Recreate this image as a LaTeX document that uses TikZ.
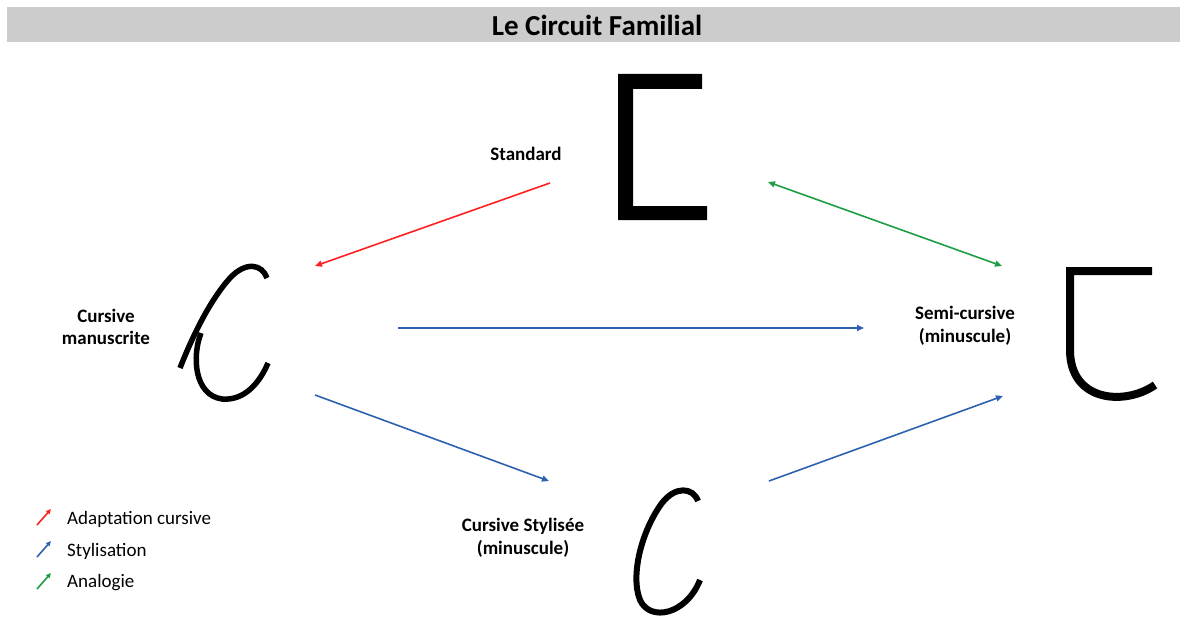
\documentclass[tikz,border=0pt]{standalone}
\usepackage{fontspec}
\setmainfont{Carlito}
\usetikzlibrary{arrows.meta}
\definecolor{titlegray}{HTML}{CCCCCC}
\definecolor{adred}{HTML}{FF2020}
\definecolor{stblue}{HTML}{2E62B0}
\definecolor{angreen}{HTML}{1E9E44}
\tikzset{
  lbl/.style={font=\fontsize{19}{22.5}\selectfont\bfseries, align=center, inner sep=0pt},
  leg/.style={font=\fontsize{19}{22}\selectfont, anchor=west, inner sep=0pt},
  conn/.style={line width=1.6pt, -{Triangle[length=7pt,width=6pt]}},
  legarrow/.style={line width=1.6pt, -{Triangle[length=5pt,width=4.5pt]}},
  glyph/.style={line width=#1, black, line cap=butt},
}
\begin{document}
\begin{tikzpicture}[x=1pt,y=-1pt]
\useasboundingbox (0,0) rectangle (1186,623);
\fill[white] (0,0) rectangle (1186,623);
% title
\fill[titlegray] (7,7) rectangle (1180,42);
\node[font=\fontsize{29}{32}\selectfont\bfseries, inner sep=0pt] (title) at (597,25) {Le Circuit Familial};
% glyph: Standard
\fill[black] (618,74) -- (702,74) -- (702,89) -- (633,89) -- (633,206) -- (707,206) -- (707,220) -- (618,220) -- cycle;
% glyph: Cursive manuscrite
\draw[glyph=5.5pt] (267,278) .. controls (262,264) and (246,261) .. (230,278) .. controls (212,298) and (195,330) .. (180,368);
\draw[glyph=5.5pt] (201,333) .. controls (192,356) and (194,395) .. (222,399) .. controls (245,401) and (260,382) .. (268,363);
% glyph: Semi-cursive
\draw[glyph=8pt, line join=miter] (1152,271) -- (1070,271) -- (1070,350) .. controls (1070,402) and (1125,406) .. (1155,385);
% glyph: Cursive stylisee
\draw[glyph=6pt] (698,501) .. controls (693,487) and (675,486) .. (662,503) .. controls (642,530) and (630,575) .. (640,600) .. controls (650,622) and (686,615) .. (700,580);
% labels
\node[lbl] (standard) at (526,154) {Standard};
\node[lbl] (manuscrite) at (106,327) {Cursive\\manuscrite};
\node[lbl] (semi) at (965,326) {Semi-cursive\\(minuscule)};
\node[lbl] (stylisee) at (523,538) {Cursive Stylisée\\(minuscule)};
% connector ends
\coordinate (s1) at (550,183);
\coordinate (m1) at (315,266);
\coordinate (s2) at (768,182);
\coordinate (c1) at (1002,266);
\coordinate (m2) at (398,328);
\coordinate (c2) at (864,328);
\coordinate (m3) at (315,395);
\coordinate (y1) at (549,481);
\coordinate (y2) at (769,481);
\coordinate (c3) at (1003,396);
\draw[conn, adred] (s1) -- (m1);
\draw[conn, angreen, {Triangle[length=7pt,width=6pt]}-{Triangle[length=7pt,width=6pt]}] (s2) -- (c1);
\draw[conn, stblue] (m2) -- (c2);
\draw[conn, stblue] (m3) -- (y1);
\draw[conn, stblue] (y2) -- (c3);
% legend
\coordinate (la1) at (37,525); \coordinate (lb1) at (51,509);
\coordinate (la2) at (37,557); \coordinate (lb2) at (51,541);
\coordinate (la3) at (37,589); \coordinate (lb3) at (51,573);
\draw[legarrow, adred] (la1) -- (lb1);
\draw[legarrow, stblue] (la2) -- (lb2);
\draw[legarrow, angreen] (la3) -- (lb3);
\node[leg] (leg1) at (67,519) {Adaptation cursive};
\node[leg] (leg2) at (67,551) {Stylisation};
\node[leg] (leg3) at (67,583) {Analogie};
\end{tikzpicture}
\end{document}
